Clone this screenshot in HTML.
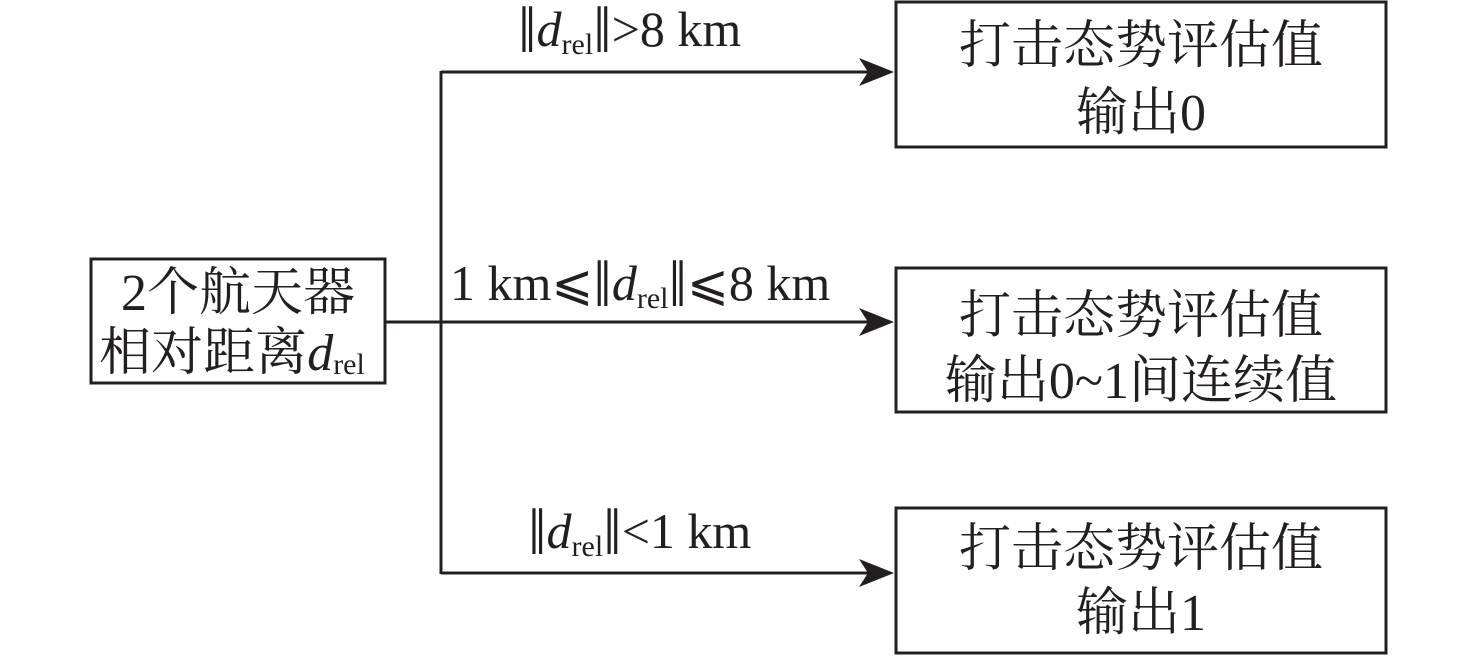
<!DOCTYPE html>
<html><head><meta charset="utf-8"><style>
html,body{margin:0;padding:0;background:#fff;width:1476px;height:656px;overflow:hidden}
text{font-family:"Liberation Serif","Noto Serif CJK SC",serif;fill:#231f20}
</style></head><body>
<svg width="1476" height="656" viewBox="0 0 1476 656" xmlns="http://www.w3.org/2000/svg">
<g fill="none" stroke="#231f20" stroke-width="3">
<rect x="91" y="259" width="294" height="124"/>
<rect x="896" y="2" width="490" height="145"/>
<rect x="896" y="268" width="490" height="144"/>
<rect x="896" y="508" width="490" height="145"/>
<line x1="385" y1="322" x2="870" y2="322"/>
<line x1="441" y1="71" x2="441" y2="574"/>
<line x1="441" y1="72" x2="870" y2="72"/>
<line x1="441" y1="573" x2="870" y2="573"/>
</g>
<g fill="#231f20">
<path d="M894,72 L859,58 L868,72 L859,86Z"/>
<path d="M894,322 L859,308 L868,322 L859,336Z"/>
<path d="M894,573 L859,559 L868,573 L859,587Z"/>
</g>
<g font-size="52" text-anchor="middle">
<text x="238" y="310">2个航天器</text>
<text x="232" y="370">相对距离<tspan font-style="italic">d</tspan><tspan font-size="30" dy="4">rel</tspan></text>
<text x="1141" y="63">打击态势评估值</text>
<text x="1141" y="130">输出0</text>
<text x="1141" y="333">打击态势评估值</text>
<text x="1141" y="398">输出0~1间连续值</text>
<text x="1141" y="566">打击态势评估值</text>
<text x="1141" y="630">输出1</text>
</g>
<g font-size="50">
<text x="518" y="46"><tspan font-size="66" dy="6">‖</tspan><tspan font-style="italic" dy="-6">d</tspan><tspan font-size="30" dy="8">rel</tspan><tspan font-size="66" dy="-2">‖</tspan><tspan dy="-6">&gt;8 km</tspan></text>
<text x="450" y="300">1 km⩽<tspan font-size="66" dy="6">‖</tspan><tspan font-style="italic" dy="-6">d</tspan><tspan font-size="30" dy="8">rel</tspan><tspan font-size="66" dy="-2">‖</tspan><tspan dy="-6">⩽8 km</tspan></text>
<text x="528" y="548"><tspan font-size="66" dy="6">‖</tspan><tspan font-style="italic" dy="-6">d</tspan><tspan font-size="30" dy="8">rel</tspan><tspan font-size="66" dy="-2">‖</tspan><tspan dy="-6">&lt;1 km</tspan></text>
</g>
</svg>
</body></html>
